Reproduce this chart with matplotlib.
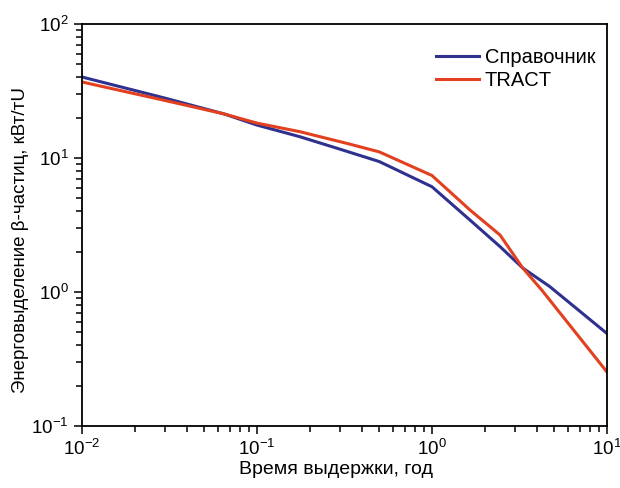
import matplotlib
matplotlib.use("Agg")
import matplotlib.pyplot as plt
from matplotlib.ticker import LogLocator

plt.rcParams['font.family'] = ['Liberation Sans', 'DejaVu Sans']
plt.rcParams['mathtext.default'] = 'regular'

# Справочник (синяя линия)
ref_x = [0.01, 0.03, 0.065, 0.1, 0.176, 0.3, 0.5, 1.0, 1.65, 2.45, 3.3, 4.7, 10]
ref_y = [40.2, 27.9, 21.3, 17.6, 14.4, 11.6, 9.4, 6.1, 3.44, 2.18, 1.51, 1.1, 0.49]

# TRACT (красная линия)
tract_x = [0.01, 0.03, 0.065, 0.1, 0.176, 0.33, 0.5, 1.0, 1.65, 2.45, 3.3, 4.25, 10]
tract_y = [36.9, 26.8, 21.3, 18.2, 15.7, 12.8, 11.1, 7.4, 4.09, 2.66, 1.51, 1.03, 0.253]

fig = plt.figure(figsize=(6.2, 4.88), dpi=100)
ax = fig.add_axes([0.132, 0.127, 0.847, 0.824])

ax.plot(ref_x, ref_y, color='#2f318f', lw=2.2, label='Справочник')
ax.plot(tract_x, tract_y, color='#e2401f', lw=2.2, label='TRACT')

ax.set_xscale('log')
ax.set_yscale('log')
ax.set_xlim(1e-2, 1e1)
ax.set_ylim(1e-1, 1e2)

ax.xaxis.set_major_locator(LogLocator(base=10, numticks=10))
ax.yaxis.set_major_locator(LogLocator(base=10, numticks=10))

for s in ax.spines.values():
    s.set_linewidth(1.3)

ax.tick_params(which='both', direction='out', top=False, right=False, width=1.1, labelsize=13.5)
ax.tick_params(which='major', length=6)
ax.tick_params(which='minor', length=4)

ax.set_xlabel('Время выдержки, год', fontsize=14)
ax.set_ylabel('Энерговыделение β-частиц, кВт/тU', fontsize=13.5)
ax.xaxis.set_label_coords(0.484, -0.087)
ax.yaxis.set_label_coords(-0.1, 0.463)

ax.legend(loc='upper right', frameon=False, fontsize=14.5, handlelength=2.1,
          handletextpad=0.3, labelspacing=0.2, bbox_to_anchor=(1.012, 0.985))

fig.savefig('out.png', dpi=100)
